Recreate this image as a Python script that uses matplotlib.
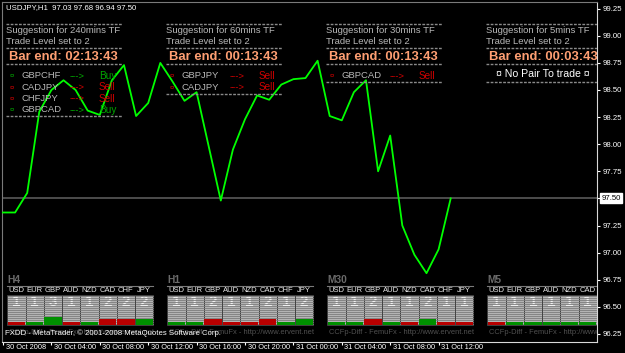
import matplotlib
matplotlib.use('Agg')
import matplotlib.pyplot as plt
from matplotlib.patches import Rectangle
from matplotlib.transforms import offset_copy
import numpy as np

# USDJPY H1 closing prices
closes = [97.37, 97.37, 97.55, 98.30, 98.50, 98.59, 98.50, 98.31, 98.27, 98.59,
          98.73, 98.26, 98.38, 98.75, 98.58, 98.40, 98.48, 97.98, 97.48, 97.95,
          98.23, 98.45, 98.41, 98.55, 98.60, 98.61, 98.77, 98.26, 98.22, 98.48,
          98.59, 97.75, 98.08, 97.25, 96.98, 96.81, 97.03, 97.50]
bid = 97.50
title = "USDJPY,H1  97.03 97.68 96.94 97.50"
time_labels = ["30 Oct 2008", "30 Oct 04:00", "30 Oct 08:00", "30 Oct 12:00",
               "30 Oct 16:00", "30 Oct 20:00", "31 Oct 00:00", "31 Oct 04:00",
               "31 Oct 08:00", "31 Oct 12:00"]
time_pos = [0, 4, 8, 12, 16, 20, 24, 28, 32, 36]   # bar index of each label
price_ticks = [96.25, 96.50, 96.75, 97.00, 97.25, 97.50, 97.75, 98.00,
               98.25, 98.50, 98.75, 99.00, 99.25]

# suggestion panels
tf_minutes = [240, 60, 30, 5]
bar_end = ["02:13:43", "00:13:43", "00:13:43", "00:03:43"]
signals = [
    [("GBPCHF", "Buy"), ("CADJPY", "Sell"), ("CHFJPY", "Sell"), ("GBPCAD", "Buy")],
    [("GBPJPY", "Sell"), ("CADJPY", "Sell")],
    [("GBPCAD", "Sell")],
    [],
]

# currency strength meters
currencies = ["USD", "EUR", "GBP", "AUD", "NZD", "CAD", "CHF", "JPY"]
meter_tf = ["H4", "H1", "M30", "M5"]
meter_level = [
    [1, 1, 3, 1, 1, 2, 2, 2],
    [1, 1, 2, 1, 1, 2, 1, 2],
    [1, 1, 2, 1, 1, 2, 1, 1],
    [1, 1, 1, 1, 1, 1, 1, 1],
]
meter_up = [
    [0, 1, 1, 0, 1, 0, 0, 1],
    [1, 1, 0, 0, 0, 0, 1, 1],
    [1, 1, 0, 1, 0, 1, 0, 0],
    [0, 1, 1, 1, 1, 1, 1, 1],
]

W, H = 625, 353
L, R, T, B = 2, 597, 2, 342   # plot box in pixels
BAR_PX = 12.1

FONT = "Liberation Sans"
GREY = "#b8b8b8"
GREEN = "#00a800"
RED = "#d00000"
SALMON = "#ff9f73"

fig = plt.figure(figsize=(W / 100, H / 100), dpi=100, facecolor="black")
pos = [L / W, 1 - B / H, (R - L) / W, (B - T) / H]
ax = fig.add_axes(pos, facecolor="black")

x = np.arange(len(closes))
ax.plot(x, closes, color="#00ff00", lw=1.3, zorder=3)
ax.axhline(bid, color="#5a5a5a", lw=1.2, zorder=2)

ax.set_xlim((L - 3) / BAR_PX, (R - 3) / BAR_PX)
ax.set_ylim(99.25 - (B - 8.7) / 108.4, 99.25 + (8.7 - T) / 108.4)

ax.yaxis.tick_right()
ax.set_yticks(price_ticks)
ax.set_yticklabels(["%.2f" % p if p != bid else "" for p in price_ticks])
ax.tick_params(axis="y", colors="white", labelsize=5.6, length=2.5, width=0.8, pad=1.5)
for lab in ax.get_yticklabels():
    lab.set_family(FONT)

# time axis: small tick marks, labels to the right of each mark
ax.set_xticks(time_pos)
ax.set_xticklabels([])
ax.tick_params(axis="x", colors="white", length=2.5, width=0.8, direction="out")
lab_tr = offset_copy(ax.get_xaxis_transform(), fig=fig, x=2.5, y=-5.5, units="dots")
for p, s in zip(time_pos, time_labels):
    ax.text(p, 0, s, transform=lab_tr, color="white", fontsize=5.3, family=FONT,
            ha="left", va="center", clip_on=False)

for s in ["left", "top"]:
    ax.spines[s].set_color("#7a7a7a")
for s in ["right", "bottom"]:
    ax.spines[s].set_color("#d8d8d8")

ax.annotate("97.50", xy=(1, bid), xycoords=("axes fraction", "data"),
            xytext=(3, 0), textcoords="offset points", va="center", ha="left",
            fontsize=5.6, family=FONT, color="black",
            bbox=dict(boxstyle="square,pad=0.2", fc="white", ec="white"))

# overlay in pixel coordinates
ov = fig.add_axes(pos, facecolor="none")
ov.set_xlim(L, R)
ov.set_ylim(B, T)
ov.axis("off")


def txt(px, py, s, **kw):
    if px > R:   # hidden behind the price scale, as in the terminal
        return
    kw.setdefault("family", FONT)
    kw.setdefault("va", "center")
    ov.text(px, py, s, clip_on=True, **kw)


def dash(x0, x1, py):
    ov.plot([x0, x1], [py, py], color="#8a8a8a", lw=1.0,
            ls=(0, (2, 1)), solid_capstyle="butt")


txt(6, 8, title, color="white", fontsize=5.6)

for k in range(4):
    x0 = 6 + 160 * k
    dash(x0, x0 + 116, 24)
    txt(x0, 30.7, "Suggestion for %dmins TF" % tf_minutes[k], color=GREY, fontsize=6.8)
    txt(x0, 41.7, "Trade Level set to 2", color=GREY, fontsize=6.8)
    dash(x0, x0 + 116, 48.3)
    txt(x0 + 3, 56.7, "Bar end: " + bar_end[k], color=SALMON, fontsize=9.4,
        fontweight="bold")
    dash(x0, x0 + 116, 64.3)
    rows = signals[k]
    for i, (pair, act) in enumerate(rows):
        py = 76 + 11.3 * i
        c = GREEN if act == "Buy" else RED
        txt(x0 + 6, py, "\u00a4", color=c, fontsize=5.5, ha="center")
        txt(x0 + 16, py, pair, color=GREY, fontsize=6.8)
        txt(x0 + 64, py, "--->", color=c, fontsize=6.8)
        txt(x0 + 93, py, act, color=c, fontsize=7.2)
    if not rows:
        txt(x0 + 57, 74, "\u00a4 No Pair To trade \u00a4", color="white",
            fontsize=7.6, ha="center")
    dash(x0, x0 + 116, 71 + 11.3 * max(len(rows), 1))

# strength meters
CW = 18.25
for k in range(4):
    x0 = 7.3 + 160 * k
    txt(x0, 280, meter_tf[k], color="#6a6a6a", fontsize=7.4, fontweight="bold")
    ov.plot([x0, x0 + 8 * CW], [286, 286], color="#7a7a7a", lw=0.8)
    for j, cur in enumerate(currencies):
        cx = x0 + j * CW
        txt(cx + CW / 2, 290.7, cur, color="#e8e8e8", fontsize=5.5, ha="center")
        ov.add_patch(Rectangle((cx, 295), CW, 30, fc="#b4b4b4", ec="#3a3a3a",
                               lw=0.6, clip_on=True, zorder=1))
        lvl = meter_level[k][j]
        txt(cx + CW / 2, 301.5, str(lvl), color="#f0f0f0", fontsize=11,
            fontweight="bold", ha="center", zorder=2)
        for sy in np.arange(296, 325, 2.0):
            ov.plot([cx + 0.6, cx + CW - 0.6], [sy, sy], color="#7c7c7c",
                    lw=0.6, clip_on=True, zorder=3)
        h = 1 + 2.5 * lvl
        c = "#009000" if meter_up[k][j] else "#b80000"
        ov.add_patch(Rectangle((cx + 0.5, 325 - h), CW - 1, h, fc=c,
                               ec="none", clip_on=True, zorder=4))
    txt(x0 + 1.5, 332, "CCFp-Diff - FemuFx - http://www.ervent.net",
        color="#505050", fontsize=5.4)

txt(5, 333, "FXDD - MetaTrader, \u00a9 2001-2008 MetaQuotes Software Corp.",
    color="white", fontsize=5.6, zorder=5)

fig.savefig("out.png", dpi=100, facecolor="black")
